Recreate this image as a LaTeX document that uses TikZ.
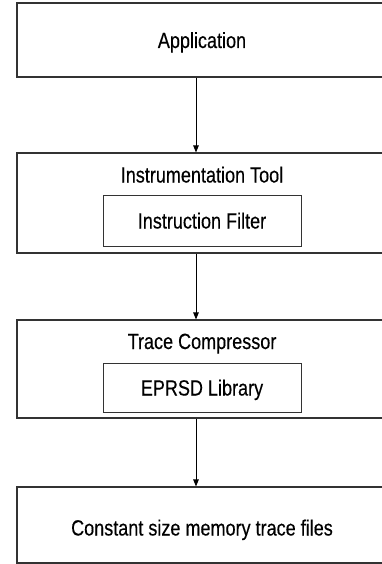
\documentclass[tikz,border=0pt]{standalone}
\usepackage{fontspec}
\setmainfont{Liberation Sans}[FakeStretch=0.82,FakeBold=0.3]
\usetikzlibrary{arrows.meta}
\tikzset{layer/.style={draw=black!80, line width=1.1pt, minimum width=370pt, inner sep=0pt,
                       font=\fontsize{22}{26}\selectfont, text height=16pt, text depth=0pt},
         part/.style={draw=black!80, line width=1pt, minimum width=198pt, inner sep=0pt,
                      font=\fontsize{22}{26}\selectfont, text height=16pt, text depth=0pt},
         caption/.style={inner sep=0pt, font=\fontsize{22}{26}\selectfont, text height=16pt, text depth=0pt},
         flow/.style={-{Triangle[length=7pt,width=5.5pt]}, line width=0.9pt}}

\begin{document}
\begin{tikzpicture}[x=1pt,y=-1pt] % pixel-like units, y going down
\useasboundingbox (0,0) rectangle (381,564);
\coordinate (axis) at (196,0); % the arrows all run down this line

% top: the program being traced
\node[layer, minimum height=74pt] (app) at (202,40) {Application};

% tool with its filter inside
\node[layer, minimum height=100pt] (tool) at (202,203) {};
\node[caption] (toolname) at (202,174.5) {Instrumentation Tool};
\node[part, minimum height=51pt] (filter) at (202,220.5) {Instruction Filter};

% compressor with the library inside
\node[layer, minimum height=98pt] (comp) at (202,369) {};
\node[caption] (compname) at (202,341) {Trace Compressor};
\node[part, minimum height=49pt] (lib) at (202,387.5) {EPRSD Library};

% output
\node[layer, minimum height=76pt, text height=21pt] (out) at (202,525) {Constant size memory trace files};

\draw[flow] (app.south -| axis) -- (tool.north -| axis);
\draw[flow] (tool.south -| axis) -- (comp.north -| axis);
\draw[flow] (comp.south -| axis) -- (out.north -| axis);
\end{tikzpicture}
\end{document}
